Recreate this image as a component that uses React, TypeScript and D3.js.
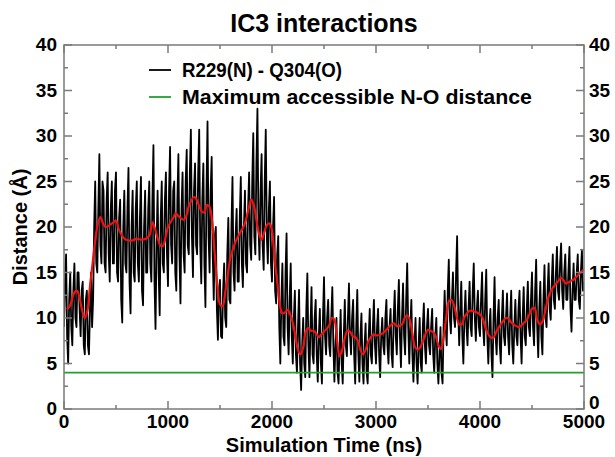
import React from 'react';
import * as d3 from 'd3';

const W = 615;
const H = 457;

// Raw trace R229(N) - Q304(O), sampled every 10 ns (0..5000), one row = 200 ns
const blackStepNs = 10;
const blackValues = [
  9, 14, 17, 8, 5, 12, 15, 9, 7, 13, 16, 10, 9, 15, 15, 11, 8, 13, 14, 7,
  6, 12, 13, 7, 6, 11, 15, 9, 12, 20, 25, 16, 15, 22, 28, 18, 16, 25, 24, 16,
  15, 23, 26, 17, 14, 22, 25, 16, 16, 24, 26, 15, 14, 21, 23, 12, 9.5, 20, 24, 16,
  15, 22, 26.5, 14, 10.5, 20, 24, 15, 14, 22, 25, 16, 14, 21, 25.5, 13, 11.4, 20, 24, 15,
  15, 22, 25, 16, 14, 23, 29, 14, 8.8, 18, 24, 15, 10.3, 21, 25, 16, 15, 23, 26, 17,
  13.5, 24, 28.8, 18, 16, 24, 25, 15, 13, 23, 28, 17, 11.6, 22, 26, 17, 15, 25, 28.5, 18,
  17, 26, 30.7, 19, 14.5, 24, 27, 18, 17, 26, 30.7, 18, 13.8, 23, 27, 16, 11.2, 24, 31.6, 19,
  15, 24, 27.7, 17, 12, 19, 20, 11, 7.6, 13, 14.2, 8, 7.8, 13, 16, 10, 9, 17, 21, 12,
  11.6, 20, 25.5, 15, 13, 19, 22, 14, 14, 21, 25.5, 16, 13.4, 20, 24, 16, 15, 22, 26, 18,
  16.4, 25, 30.3, 19, 17, 27, 33, 20, 16.4, 24, 28, 18, 15.3, 25, 30.7, 19, 16, 22, 25, 16,
  14, 20, 23.3, 13, 11.6, 17, 19, 9, 5, 12, 16, 8, 7, 15, 19.3, 9, 6, 12, 16, 8,
  5, 10, 13, 6, 4, 9, 13.1, 5, 2.1, 7, 10, 5, 3.5, 11, 14.9, 7, 3.5, 9, 13.4, 6,
  5, 10, 12, 6, 3, 8, 11, 5, 2.8, 10, 14.5, 8, 6, 10, 12, 7, 5.8, 10, 13.4, 7,
  3, 7, 10, 4, 2.8, 7, 10.9, 5, 2.8, 8, 12, 7, 5.8, 10, 13.8, 8, 6, 10, 12, 6,
  2.8, 9, 13.1, 6, 3, 8, 10.5, 5, 2.8, 7, 9.4, 4, 2.8, 8, 11, 6, 5, 9, 12, 7,
  5, 9, 11, 6, 3.5, 8, 10, 7, 6, 10, 12, 7, 5, 9, 11, 6, 4.6, 10, 13, 8,
  6, 11, 14.2, 8, 4.6, 10, 13.8, 8, 6, 12, 16, 9, 5, 9, 12, 6, 3, 7, 10, 5,
  2.8, 7, 10, 5, 4, 9, 11.6, 7, 5, 9, 11, 7, 6, 9, 11, 6, 4, 8, 10, 5,
  2.8, 6, 9, 4, 2.8, 9, 13, 9, 7, 13, 16.4, 10, 8.3, 12, 15, 10, 9, 15, 19, 11,
  7, 11, 14, 8, 5, 10, 13, 9, 7, 11, 14, 9, 8, 13, 16, 10, 7.5, 11, 13, 9,
  8, 12, 15, 9, 7, 12, 15.3, 8, 5, 9, 11, 6, 3.5, 10, 14.5, 8, 6, 10, 12, 7,
  5, 10, 13, 8, 7, 10, 12.7, 8, 6, 10, 13, 7, 5, 9, 12, 8, 7, 11, 13, 8,
  5, 10, 13.4, 8, 7, 11, 14, 9, 8, 12, 15, 9, 7, 13, 16.4, 9, 5.7, 11, 14, 8,
  6, 12, 15.8, 10, 9, 13, 16, 11, 9.8, 14, 17, 12, 11, 15, 17.8, 13, 12, 16, 18.2, 13,
  11, 15, 17, 12, 12, 15, 17.8, 11, 8.5, 13, 16, 12, 12, 15, 17, 12, 11, 15, 17.5, 13,
  14,
];

// Smoothed running average (red)
const redTimes = [
  25, 50, 75, 100, 125, 150, 175, 200, 225, 250, 275, 300, 325, 350, 375, 400, 425, 450, 475, 500,
  525, 550, 575, 600, 650, 700, 750, 800, 825, 850, 875, 900, 925, 950, 975, 1000, 1050, 1075, 1100, 1150,
  1175, 1200, 1250, 1275, 1300, 1325, 1350, 1375, 1400, 1425, 1450, 1475, 1500, 1525, 1550, 1575, 1600, 1650, 1700, 1725,
  1750, 1775, 1800, 1825, 1850, 1875, 1900, 1925, 1950, 1975, 2000, 2025, 2050, 2075, 2100, 2125, 2150, 2175, 2200, 2225,
  2250, 2275, 2300, 2325, 2350, 2375, 2400, 2425, 2450, 2475, 2500, 2525, 2550, 2575, 2600, 2625, 2650, 2675, 2700, 2725,
  2750, 2775, 2800, 2825, 2850, 2875, 2900, 2925, 2950, 2975, 3000, 3050, 3100, 3150, 3175, 3200, 3250, 3275, 3300, 3325,
  3350, 3375, 3400, 3425, 3450, 3475, 3500, 3525, 3550, 3575, 3600, 3625, 3650, 3675, 3700, 3725, 3750, 3775, 3800, 3825,
  3850, 3875, 3900, 3950, 4000, 4025, 4050, 4075, 4100, 4125, 4150, 4175, 4200, 4225, 4250, 4275, 4300, 4325, 4350, 4375,
  4400, 4425, 4450, 4475, 4500, 4525, 4550, 4575, 4600, 4625, 4650, 4675, 4700, 4725, 4750, 4775, 4800, 4825, 4850, 4875,
  4900, 4925, 4950, 4975, 5000,
];
const redValues = [
  11.0, 11.2, 12.0, 12.8, 13.0, 12.2, 10.8, 10.0, 10.8, 13.5, 16.0, 18.5, 20.3, 21.1, 20.4, 20.0, 20.1, 20.3, 20.5, 20.7,
  19.8, 19.2, 18.8, 18.6, 18.5, 18.7, 18.6, 18.8, 19.2, 20.5, 19.8, 18.8, 18.0, 17.9, 18.8, 20.0, 21.0, 21.5, 21.2, 20.8,
  21.2, 22.3, 23.3, 23.0, 22.3, 21.7, 21.6, 22.4, 22.2, 20.5, 17.0, 13.5, 11.5, 11.3, 12.8, 14.8, 16.6, 18.4, 19.5, 20.0,
  20.8, 22.0, 23.0, 22.4, 20.8, 19.3, 18.6, 19.4, 20.2, 20.4, 19.6, 16.5, 14.0, 11.5, 10.5, 10.6, 10.9, 10.4, 9.5, 8.0,
  6.5, 6.0, 6.8, 8.5, 8.9, 8.6, 8.6, 8.3, 7.9, 8.2, 8.5, 8.8, 9.2, 10.0, 9.8, 7.5, 5.8, 6.5, 7.8, 8.6,
  8.5, 8.0, 7.9, 7.5, 6.5, 6.0, 6.5, 7.4, 7.9, 8.2, 8.1, 8.2, 8.7, 9.3, 9.4, 9.1, 9.3, 10.0, 10.3, 9.8,
  8.3, 6.8, 6.5, 6.8, 7.4, 8.2, 8.7, 8.6, 8.4, 8.0, 7.0, 6.6, 7.8, 10.0, 11.8, 12.0, 11.4, 10.2, 9.3, 9.3,
  10.1, 10.5, 10.8, 10.7, 10.4, 10.0, 9.0, 8.3, 7.9, 7.8, 8.3, 8.9, 9.3, 9.7, 10.0, 9.9, 9.5, 9.3, 9.1, 9.0,
  9.2, 9.5, 9.8, 10.4, 11.0, 11.1, 9.8, 9.3, 9.6, 10.6, 12.0, 12.8, 13.3, 13.7, 14.0, 14.4, 14.2, 13.8, 13.9, 14.1,
  14.2, 14.5, 14.8, 15.1, 15.3,
];

const limitValue = 4.0;

const xDomain = [0, 5000];
const yDomain = [0, 40];
const xMajor = [0, 1000, 2000, 3000, 4000, 5000];
const xMinor = [500, 1500, 2500, 3500, 4500];
const yMajor = [0, 5, 10, 15, 20, 25, 30, 35, 40];
const yMinor = [2.5, 7.5, 12.5, 17.5, 22.5, 27.5, 32.5, 37.5];

const title = 'IC3 interactions';
const xLabel = 'Simulation Time (ns)';
const yLabel = 'Distance (Å)';
const legendItems = [
  { label: 'R229(N) - Q304(O)', color: '#000000', width: 160 },
  { label: 'Maximum accessible N-O distance', color: '#23a02c', width: 350 },
];

const FONT = '"Liberation Sans", Arial, Helvetica, sans-serif';

export default function App() {
  const left = 64, right = 584, top = 45, bottom = 409;
  const x = d3.scaleLinear().domain(xDomain).range([left, right]);
  const y = d3.scaleLinear().domain(yDomain).range([bottom, top]);

  const blackPts: [number, number][] = blackValues.map((v, i) => [i * blackStepNs, v]);
  const redPts: [number, number][] = redTimes.map((t, i) => [t, redValues[i]]);
  const line = d3.line<[number, number]>().x(d => x(d[0])).y(d => y(d[1]));
  const smooth = d3.line<[number, number]>().x(d => x(d[0])).y(d => y(d[1])).curve(d3.curveCatmullRom.alpha(0.5));

  const frameColor = '#7a7a7a';
  const majLen = 8, minLen = 4;

  return (
    <svg width={W} height={H} style={{ position: 'absolute', left: 0, top: 0, background: '#fff' }}
      fontFamily={FONT} fontWeight="bold">
      <rect x={0} y={0} width={W} height={H} fill="#fff" />
      <text x={(left + right) / 2} y={32} textAnchor="middle" fontSize={25}>{title}</text>

      <clipPath id="plotclip"><rect x={left} y={top} width={right - left} height={bottom - top} /></clipPath>
      <g clipPath="url(#plotclip)">
        <path d={line(blackPts) || ''} fill="none" stroke="#000" strokeWidth={1.8} strokeLinejoin="round" />
        <line x1={x(xDomain[0])} x2={x(xDomain[1])} y1={y(limitValue)} y2={y(limitValue)} stroke={legendItems[1].color} strokeWidth={1.8} />
        <path d={smooth(redPts) || ''} fill="none" stroke="#ee1111" strokeWidth={2.2} strokeLinejoin="round" />
      </g>

      <rect x={left} y={top} width={right - left} height={bottom - top} fill="none" stroke={frameColor} strokeWidth={1.5} />
      {xMajor.map(t => (
        <g key={'xM' + t}>
          <line x1={x(t)} x2={x(t)} y1={bottom} y2={bottom - majLen} stroke={frameColor} strokeWidth={1.5} />
          <line x1={x(t)} x2={x(t)} y1={top} y2={top + majLen} stroke={frameColor} strokeWidth={1.5} />
          <text x={x(t)} y={bottom + 19} textAnchor="middle" fontSize={19}>{t}</text>
        </g>
      ))}
      {xMinor.map(t => (
        <g key={'xm' + t}>
          <line x1={x(t)} x2={x(t)} y1={bottom} y2={bottom - minLen} stroke={frameColor} strokeWidth={1.5} />
          <line x1={x(t)} x2={x(t)} y1={top} y2={top + minLen} stroke={frameColor} strokeWidth={1.5} />
        </g>
      ))}
      {yMajor.map(v => (
        <g key={'yM' + v}>
          <line x1={left} x2={left + majLen} y1={y(v)} y2={y(v)} stroke={frameColor} strokeWidth={1.5} />
          <line x1={right} x2={right - majLen} y1={y(v)} y2={y(v)} stroke={frameColor} strokeWidth={1.5} />
          <text x={left - 7} y={y(v) + 6} textAnchor="end" fontSize={19}>{v}</text>
          <text x={right + 5} y={y(v) + (v === 0 ? 0 : 6)} textAnchor="start" fontSize={19}>{v}</text>
        </g>
      ))}
      {yMinor.map(v => (
        <g key={'ym' + v}>
          <line x1={left} x2={left + minLen} y1={y(v)} y2={y(v)} stroke={frameColor} strokeWidth={1.5} />
          <line x1={right} x2={right - minLen} y1={y(v)} y2={y(v)} stroke={frameColor} strokeWidth={1.5} />
        </g>
      ))}

      <text x={(left + right) / 2} y={452} textAnchor="middle" fontSize={20}>{xLabel}</text>
      <text transform={`translate(27, ${(top + bottom) / 2}) rotate(-90)`} textAnchor="middle" fontSize={20}>{yLabel}</text>

      {legendItems.map((it, i) => (
        <g key={it.label}>
          <line x1={149} x2={171} y1={70 + i * 27} y2={70 + i * 27} stroke={it.color} strokeWidth={1.8} />
          <text x={182} y={77 + i * 27} fontSize={20} textLength={it.width} lengthAdjust="spacingAndGlyphs">{it.label}</text>
        </g>
      ))}
    </svg>
  );
}
